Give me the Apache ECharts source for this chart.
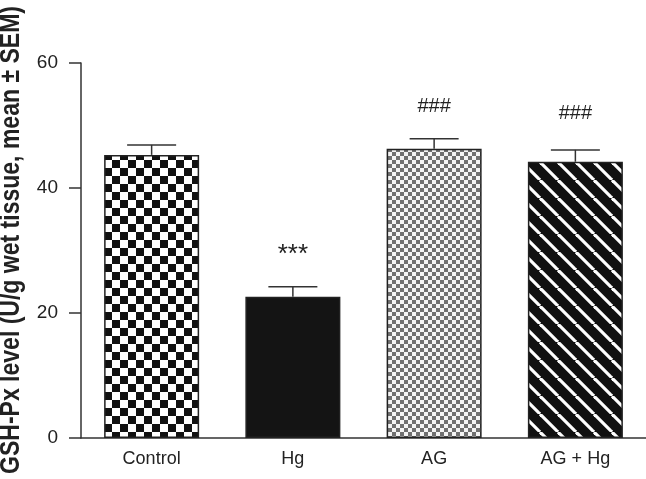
<!DOCTYPE html>
<html>
<head>
<meta charset="utf-8">
<script src="https://cdn.jsdelivr.net/npm/echarts@6/dist/echarts.min.js"></script>
<style>html,body{margin:0;padding:0;background:#fff;}#c{width:646px;height:479px;}</style>
</head>
<body>
<div id="c"></div>
<script>
const categories = ['Control', 'Hg', 'AG', 'AG + Hg'];
const means = [45.3, 22.6, 46.3, 44.2];
const sems = [1.6, 1.6, 1.6, 1.9];
const sigLabels = ['', '***', '###', '###'];
const sigPos = [null, 29.3, 53.0, 52.0];
const yTicks = [0, 20, 40, 60];
const yTitle = 'GSH-Px level (U/g wet tissue, mean ± SEM)';

function makeCanvas(w, h, draw) {
  const c = document.createElement('canvas');
  c.width = w; c.height = h;
  draw(c.getContext('2d'));
  return c;
}
const checkerBig = makeCanvas(16, 16, ctx => {
  ctx.fillStyle = '#fff'; ctx.fillRect(0, 0, 16, 16);
  ctx.fillStyle = '#111'; ctx.fillRect(0, 0, 8, 8); ctx.fillRect(8, 8, 8, 8);
});
const checkerSmall = makeCanvas(8, 8, ctx => {
  ctx.fillStyle = '#f4f4f4'; ctx.fillRect(0, 0, 8, 8);
  ctx.fillStyle = '#707070'; ctx.fillRect(0, 0, 4, 4); ctx.fillRect(4, 4, 4, 4);
});
const stripes = makeCanvas(18, 18, ctx => {
  ctx.fillStyle = '#111'; ctx.fillRect(0, 0, 18, 18);
  ctx.strokeStyle = '#fff'; ctx.lineWidth = 3.2;
  for (const o of [-18, 0, 18]) {
    ctx.beginPath(); ctx.moveTo(o, 0); ctx.lineTo(o + 18, 18); ctx.stroke();
  }
});
const fills = [
  { image: checkerBig, repeat: 'repeat' },
  '#141414',
  { image: checkerSmall, repeat: 'repeat' },
  { image: stripes, repeat: 'repeat' }
];

const font = 'Liberation Sans, Arial, sans-serif';
// measure title to condense it to the reference length
const mctx = document.createElement('canvas').getContext('2d');
mctx.font = 'bold 28px ' + font;
const titleW = mctx.measureText(yTitle).width;
const titleScale = 468 / titleW;

const chart = echarts.init(document.getElementById('c'));
chart.setOption({
  animation: false,
  grid: { left: 81, right: 0, top: 63, bottom: 41, outerBoundsMode: 'none', containLabel: false },
  graphic: [{
    type: 'text',
    x: 11, y: 240,
    rotation: Math.PI / 2,
    scaleX: titleScale,
    style: { text: yTitle, font: 'bold 28px ' + font, fill: '#222',
      textAlign: 'center', textVerticalAlign: 'middle', align: 'center', verticalAlign: 'middle' }
  }],
  xAxis: {
    type: 'category',
    data: categories,
    axisLine: { lineStyle: { color: '#333', width: 1.5 } },
    axisTick: { show: false },
    axisLabel: { color: '#222', fontSize: 18, fontFamily: font, margin: 12 }
  },
  yAxis: {
    type: 'value',
    min: 0, max: 60, interval: 20,
    axisLine: { show: true, lineStyle: { color: '#333', width: 1.5 } },
    axisTick: { show: true, length: 12, lineStyle: { color: '#333', width: 1.5 } },
    splitLine: { show: false },
    axisLabel: { color: '#222', fontSize: 19, fontFamily: font, margin: 23,
      formatter: v => yTicks.includes(v) ? String(v) : '' }
  },
  series: [
    {
      type: 'bar',
      barWidth: 95,
      data: means.map((v, i) => ({
        value: v,
        itemStyle: { color: fills[i], borderColor: '#222', borderWidth: 1.5 }
      })),
      z: 2
    },
    {
      type: 'custom',
      z: 3,
      data: means.map((v, i) => [i, v, v + sems[i]]),
      renderItem: (params, api) => {
        const p0 = api.coord([api.value(0), api.value(1)]);
        const p1 = api.coord([api.value(0), api.value(2)]);
        const hw = 24.5;
        const st = { stroke: '#333', lineWidth: 1.5 };
        return {
          type: 'group',
          children: [
            { type: 'line', shape: { x1: p0[0], y1: p0[1], x2: p1[0], y2: p1[1] }, style: st },
            { type: 'line', shape: { x1: p1[0] - hw, y1: p1[1], x2: p1[0] + hw, y2: p1[1] }, style: st }
          ]
        };
      }
    },
    {
      type: 'custom',
      z: 4,
      data: sigLabels.map((t, i) => [i, sigPos[i] === null ? 0 : sigPos[i]]),
      renderItem: (params, api) => {
        const t = sigLabels[params.dataIndex];
        if (!t) return null;
        const p = api.coord([api.value(0), api.value(1)]);
        const size = t === '***' ? 26 : 20;
        return {
          type: 'text',
          style: { text: t, x: p[0], y: p[1], align: 'center', verticalAlign: 'middle',
            fill: '#222', font: size + 'px ' + font }
        };
      }
    }
  ]
});
</script>
</body>
</html>
